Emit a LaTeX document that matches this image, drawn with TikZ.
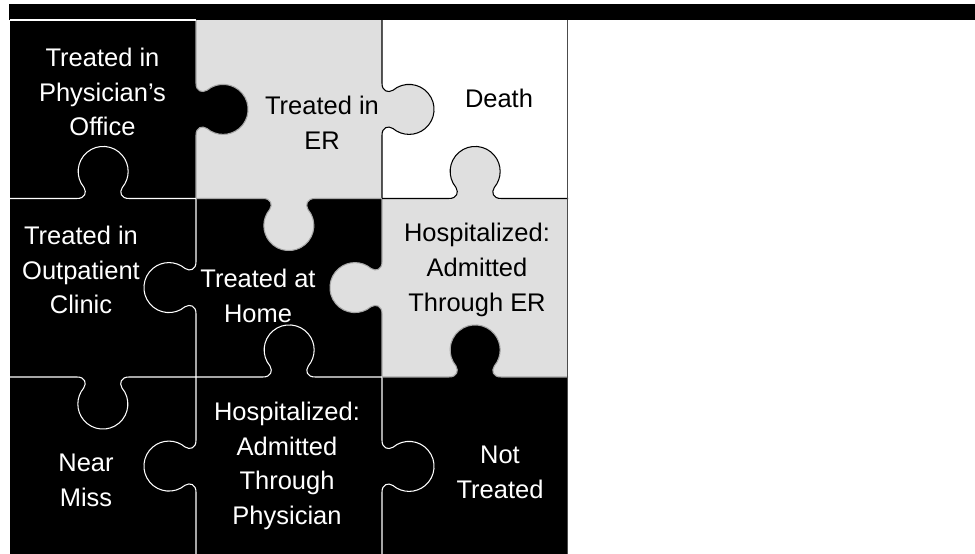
\documentclass[tikz,border=0pt]{standalone}
\usepackage{fontspec}
\setmainfont{Liberation Sans}
\definecolor{pieceGray}{HTML}{DFDFDF}
\tikzset{
x=0.02cm, y=0.02cm, % one unit is one pixel of the sketch
piecetext/.style={align=center, font=\fontsize{14.5}{19.8}\selectfont}, % text on a piece
on dark/.style={piecetext, text=white}, % text on a black piece
seam/.style={line width=0.6pt}, % the cut between two pieces
pics/knob/.style n args={4}{code={ % fill, seam colour, half length of the edge
  \fill[#1] (-26,-0.5) -- (-26,0) .. controls (-18,0) and (-16,6) .. (-19,11)
     arc[start angle=220, end angle=-40, radius=25]
     .. controls (16,6) and (18,0) .. (26,0) -- (26,-0.5) -- cycle;
  \draw[seam, #2] (-#3,0) -- (-26,0) .. controls (-18,0) and (-16,6) .. (-19,11)
     arc[start angle=220, end angle=-40, radius=25]
     .. controls (16,6) and (18,0) .. (26,0) -- (#3,0);
}},
}
\begin{document}
\begin{tikzpicture}
\useasboundingbox (0,0) rectangle (975,554);
\fill (9,534) rectangle (975,550); % bar on top

% pieces
\fill[black] (10,355.5) rectangle (196,534);
\fill[pieceGray] (196,355.5) rectangle (382,534);
\fill[black] (10,177) rectangle (382,355.5);
\fill[pieceGray] (382,177) rectangle (567.5,355.5);
\fill[black] (10,-1.5) rectangle (567.5,177);

% knobs, upright ones point up
\pic[rotate=-90] at (196,444.75) {knob={black}{gray!70}{89.25}};
\pic[rotate=-90] at (382,444.75) {knob={pieceGray}{black}{89.25}};
\pic[rotate=90] at (196,266.25) {knob={black}{white}{89.25}};
\pic[rotate=90] at (382,266.25) {knob={pieceGray}{gray!70}{89.25}};
\pic[rotate=90] at (196,87.75) {knob={black}{white}{89.25}};
\pic[rotate=-90] at (382,87.75) {knob={black}{white}{89.25}};
\pic at (103,355.5) {knob={black}{white}{93}};
\pic[rotate=180] at (289,355.5) {knob={pieceGray}{gray!70}{93}};
\pic at (475,355.5) {knob={pieceGray}{black}{93}};
\pic[rotate=180] at (103,177) {knob={black}{white}{93}};
\pic at (289,177) {knob={black}{white}{93}};
\pic at (475,177) {knob={black}{gray!70}{93}};

\draw[seam, white] (10,534) -- (196,534);
\draw[seam, gray!60!black] (567.5,534) -- (567.5,-1.5);

% texts
\node[on dark] (office) at (102.5,462) {Treated in\\Physician’s\\Office};
\node[piecetext] (er) at (322,431) {Treated in\\ER};
\node[piecetext] (death) at (499,456) {Death};
\node[on dark] (clinic) at (81,284) {Treated in\\Outpatient\\Clinic};
\node[on dark] (home) at (258,258) {Treated at\\Home};
\node[piecetext] (viaer) at (477,284) {Hospitalized:\\Admitted\\Through ER};
\node[on dark] (miss) at (86,74) {Near\\Miss};
\node[on dark] (viaphys) at (287,88) {Hospitalized:\\Admitted\\Through\\Physician};
\node[on dark] (nottreated) at (500,82) {Not\\Treated};
\end{tikzpicture}
\end{document}
